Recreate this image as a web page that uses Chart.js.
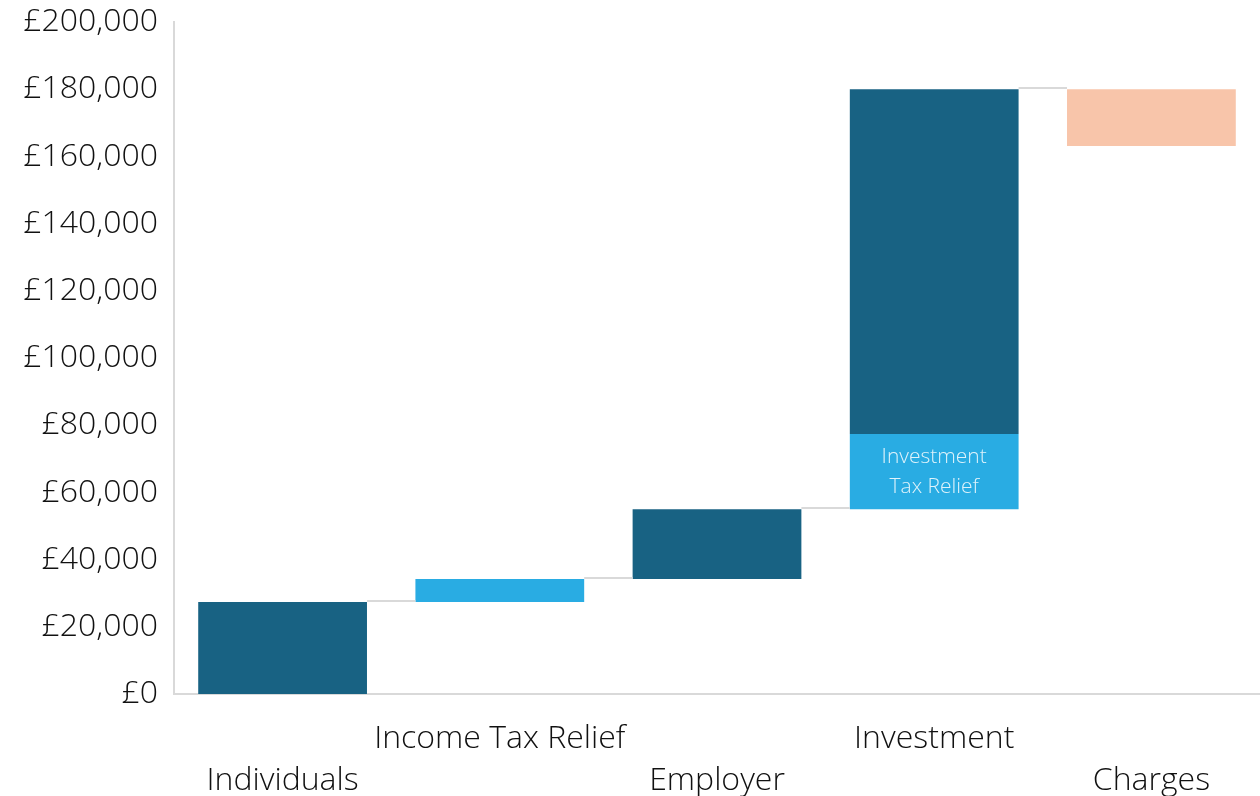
<!DOCTYPE html>
<html>
<head>
<meta charset="utf-8">
<script src="https://cdn.jsdelivr.net/npm/chart.js@4"></script>
<style>
  html, body { margin: 0; padding: 0; background: #fff; }
  #wrap { width: 1260px; height: 796px; position: relative; }
</style>
</head>
<body>
<div id="wrap"><canvas id="chart"></canvas></div>
<script>
// waterfall steps, values in £
const categories = [['', 'Individuals'], ['Income Tax Relief', ''], ['', 'Employer'], ['Investment', ''], ['', 'Charges']];
const darkBars   = [[0, 27400], null, [34200, 55000], [77400, 180000], null];
const lightBars  = [null, [27400, 34200], null, [55000, 77400], null];
const chargeBars = [null, null, null, null, [163100, 180000]];
const connectorLevels = [27400, 34200, 55000, 180000];
const insideLabel = ['Investment', 'Tax Relief'];
const yTicks = { min: 0, max: 200000, step: 20000 };

const DARK = '#186283', LIGHT = '#29ace3', PEACH = '#f8c5aa', AXIS = '#d9d9d9';
const FONT = '"Open Sans", Lato, sans-serif';
const TEXT = '#111';

const fmtPound = v => '£' + v.toLocaleString('en-GB');

// grey step lines between bars + text inside the tax relief block
const waterfallExtras = {
  id: 'waterfallExtras',
  afterDatasetsDraw(chart) {
    const { ctx, scales: { y } } = chart;
    const metas = chart.data.datasets.map((_, i) => chart.getDatasetMeta(i));
    const edge = (idx, side) => {
      for (let d = 0; d < metas.length; d++) {
        if (chart.data.datasets[d].data[idx]) {
          const b = metas[d].data[idx];
          return side === 'r' ? b.x + b.width / 2 : b.x - b.width / 2;
        }
      }
    };
    ctx.save();
    ctx.strokeStyle = AXIS;
    ctx.lineWidth = 2;
    connectorLevels.forEach((lvl, i) => {
      const yy = Math.round(y.getPixelForValue(lvl)) - 1;
      ctx.beginPath();
      ctx.moveTo(edge(i, 'r'), yy);
      ctx.lineTo(edge(i + 1, 'l'), yy);
      ctx.stroke();
    });
    const b = metas[1].data[3];
    ctx.fillStyle = 'rgba(255,255,255,0.85)';
    ctx.font = '300 21px ' + FONT;
    ctx.textAlign = 'center';
    ctx.textBaseline = 'middle';
    const cy = (b.y + b.base) / 2;
    ctx.fillText(insideLabel[0], b.x, cy - 15);
    ctx.fillText(insideLabel[1], b.x, cy + 15);
    ctx.restore();
  }
};

new Chart(document.getElementById('chart'), {
  type: 'bar',
  data: {
    labels: categories,
    datasets: [
      { label: 'Contribution', data: darkBars, backgroundColor: DARK },
      { label: 'Tax relief', data: lightBars, backgroundColor: LIGHT },
      { label: 'Charges', data: chargeBars, backgroundColor: PEACH }
    ]
  },
  options: {
    responsive: true,
    maintainAspectRatio: false,
    animation: false,
    layout: { padding: { top: 22, right: 0, bottom: 0, left: 0 } },
    plugins: { legend: { display: false }, tooltip: { enabled: false } },
    datasets: { bar: { grouped: false, categoryPercentage: 1, barPercentage: 0.777 } },
    scales: {
      x: {
        grid: { display: false },
        border: { display: true, color: AXIS, width: 2 },
        ticks: { color: TEXT, padding: 16, maxRotation: 0, autoSkip: false, font: { family: FONT, size: 32, weight: 300, lineHeight: 1.31 } },
        afterFit: s => { s.height = 102; s.paddingLeft = 0; s.paddingRight = 0; }
      },
      y: {
        min: yTicks.min, max: yTicks.max,
        grid: { display: false },
        border: { display: true, color: AXIS, width: 2 },
        ticks: { stepSize: yTicks.step, color: TEXT, padding: 8, callback: fmtPound, font: { family: FONT, size: 32, weight: 300 } },
        afterFit: s => { s.width = 174; s.paddingTop = 0; s.paddingBottom = 0; }
      }
    }
  },
  plugins: [waterfallExtras]
});
</script>
</body>
</html>
